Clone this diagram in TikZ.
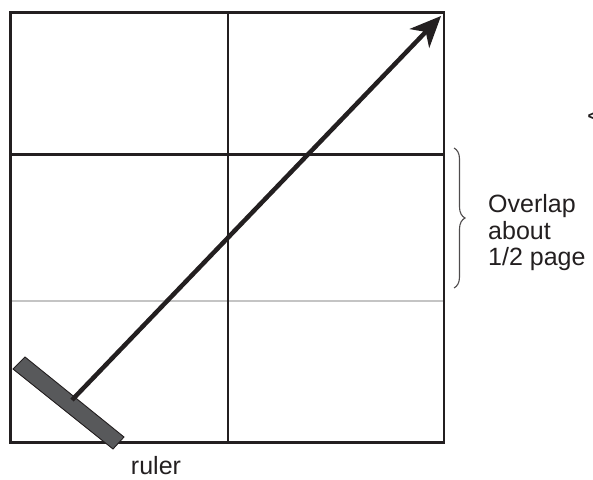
\documentclass[tikz,border=0pt]{standalone}
\usepackage{fontspec}
\setmainfont{Liberation Sans}
\usetikzlibrary{decorations.pathreplacing,arrows.meta}
\definecolor{ink}{HTML}{231F20}
\definecolor{rulerfill}{HTML}{58595B}
\definecolor{gridgrey}{HTML}{C4C4C4}
\begin{document}
\begin{tikzpicture}[x=1pt,y=-1pt,
  border/.style={draw=ink,line width=2.8pt},
  greyline/.style={draw=gridgrey,line width=2pt},
  lbl/.style={font=\fontsize{25}{26.5}\selectfont,inner sep=0pt,text=ink},
  bigarrow/.style={draw=ink,line width=4.5pt,-{Stealth[length=31pt,width=27pt,inset=9pt]}},
  rulerbar/.style={fill=rulerfill,draw=ink,line width=0.9pt},
  bracestyle/.style={draw=ink!80,line width=1.1pt,decorate,decoration={brace,amplitude=11pt}}]
\useasboundingbox (0,0) rectangle (593,479);
% frame corners
\coordinate (tl) at (10.5,12.5);
\coordinate (br) at (444,442.5);
\coordinate (mt) at (228,12.5);
\coordinate (mb) at (228,442.5);
\coordinate (hl) at (10.5,154.5);
\coordinate (hr) at (444,154.5);
\coordinate (gl) at (10.5,300.5);
\coordinate (gr) at (444,300.5);
\draw[greyline] (gl) -- (gr);
\draw[border] (tl) rectangle (br);
\draw[border] (mt) -- (mb);
\draw[border] (hl) -- (hr);
% ruler
\filldraw[rulerbar] (13,369) -- (25,357) -- (124,437) -- (113,449) -- cycle;
% arrow
\coordinate (tail) at (72,400);
\coordinate (tip) at (441,16);
\draw[bigarrow] (tail) -- (tip);
% brace
\coordinate (bt) at (454,148);
\coordinate (bb) at (454,288);
\draw[bracestyle] (bt) -- (bb);
% labels
\node[lbl,anchor=base west] (ov1) at (488,212) {Overlap};
\node[lbl,anchor=base west] (ov2) at (488,239) {about};
\node[lbl,anchor=base west] (ov3) at (488,265) {1/2 page};
\node[lbl,anchor=base] (rl) at (156,474) {ruler};
\node[lbl,anchor=west] (cut) at (587,117) {<};
\end{tikzpicture}
\end{document}
